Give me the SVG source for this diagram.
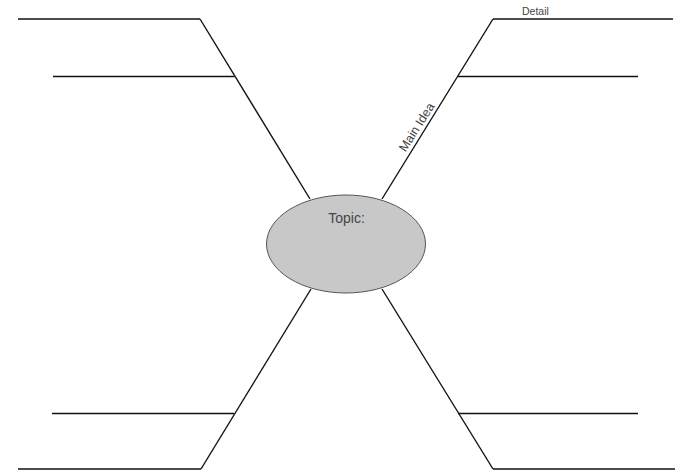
<svg xmlns="http://www.w3.org/2000/svg" width="683" height="473" viewBox="0 0 683 473">
<style>
.ln{stroke:#111;stroke-width:1.4;fill:none}
.hl{stroke:#111;stroke-width:1.7;fill:none}
.lbl{font-family:"Liberation Sans",Arial,sans-serif;fill:#444}
</style>
<rect width="683" height="473" fill="#fff"/>
<g id="connectors">
<polyline class="ln" points="310,199 200,19"/>
<polyline class="hl" points="18,19 200,19"/>
<polyline class="hl" points="53,76.5 234.5,76.5"/>
<polyline class="ln" points="382,199 493,19"/>
<polyline class="hl" points="493,19 673,19"/>
<polyline class="hl" points="458,76.5 638,76.5"/>
<polyline class="ln" points="311,289 201,469"/>
<polyline class="hl" points="18,469 201,469"/>
<polyline class="hl" points="52,413.5 234,413.5"/>
<polyline class="ln" points="382,289 493,469"/>
<polyline class="hl" points="493,469 675,469"/>
<polyline class="hl" points="458,413.5 638,413.5"/>
</g>
<g id="topic">
<ellipse cx="346" cy="244" rx="79.5" ry="49" fill="#c8c8c8" stroke="#555" stroke-width="1"/>
<text class="lbl" x="346.5" y="223" font-size="14" text-anchor="middle">Topic:</text>
</g>
<g id="labels">
<text class="lbl" x="522" y="15" font-size="10.5">Detail</text>
<text class="lbl" x="0" y="0" font-size="12.5" fill="#222" transform="translate(405.5,152.5) rotate(-57.5)">Main Idea</text>
</g>
</svg>
